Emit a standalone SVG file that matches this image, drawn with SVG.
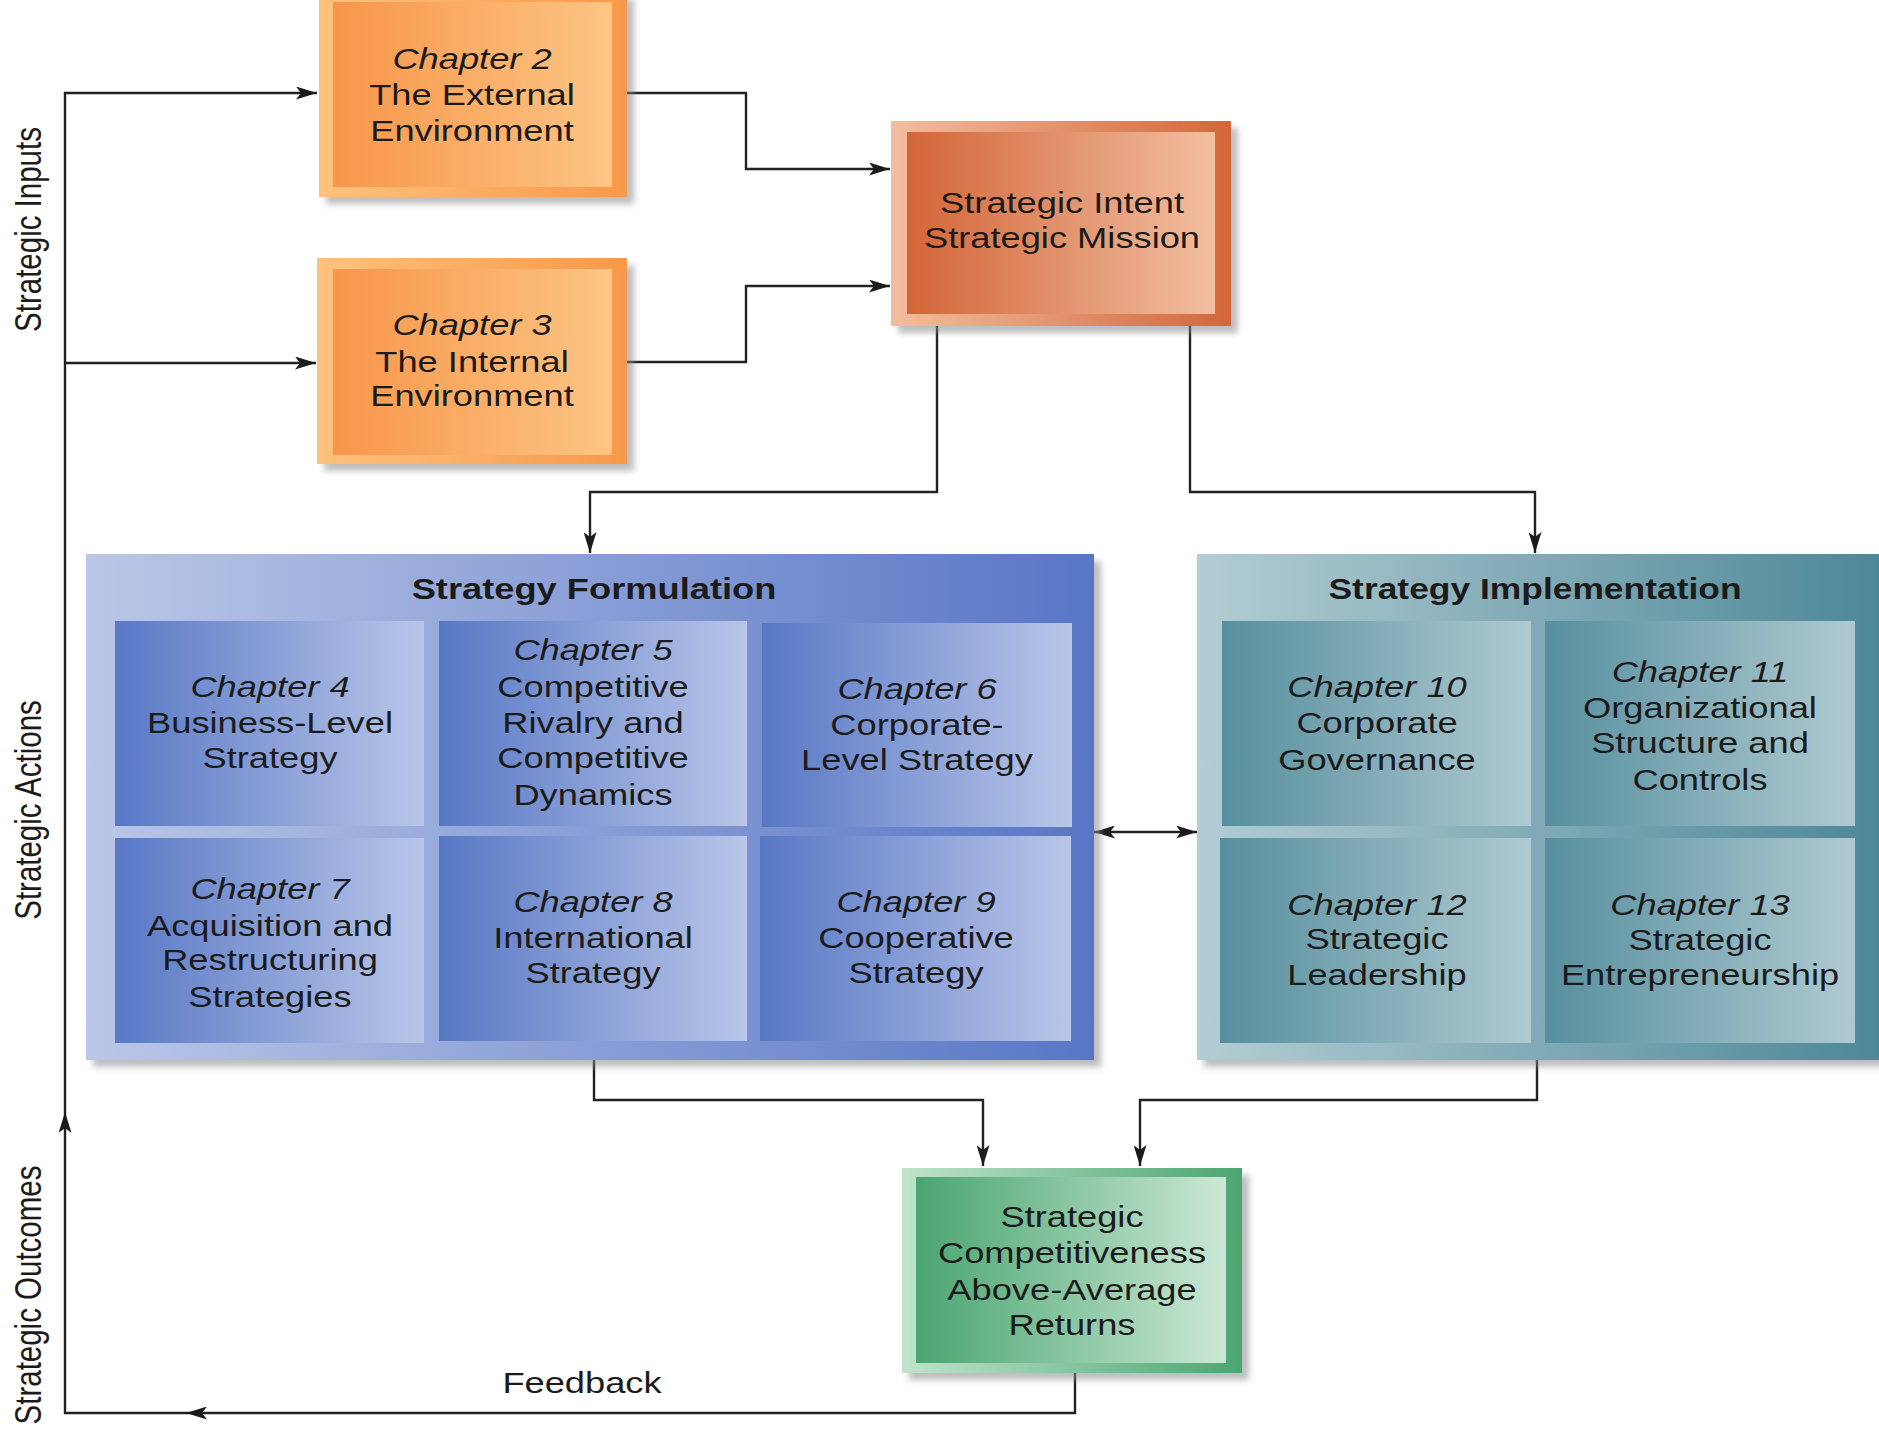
<svg xmlns="http://www.w3.org/2000/svg" width="1879" height="1432" viewBox="0 0 1879 1432">
<defs>
<style>
.t{font-family:"Liberation Sans",Arial,Helvetica,sans-serif;font-size:29.5px;fill:#1b1b1b;text-anchor:middle}
.i{font-style:italic}
.b{font-weight:bold}
.ln{fill:none;stroke:#222;stroke-width:2.4}
</style>
<linearGradient id="oO" x1="0" y1="0" x2="1" y2="0"><stop offset="0" stop-color="#FDC27D"/><stop offset="1" stop-color="#F7994A"/></linearGradient>
<linearGradient id="oI" x1="0" y1="0" x2="1" y2="0"><stop offset="0" stop-color="#F7964A"/><stop offset="1" stop-color="#FDC584"/></linearGradient>
<linearGradient id="rO" x1="0" y1="0" x2="1" y2="0"><stop offset="0" stop-color="#F2BE9F"/><stop offset="1" stop-color="#D3663A"/></linearGradient>
<linearGradient id="rI" x1="0" y1="0" x2="1" y2="0"><stop offset="0" stop-color="#D36538"/><stop offset="1" stop-color="#F2BFA1"/></linearGradient>
<linearGradient id="bO" x1="0" y1="0" x2="1" y2="0"><stop offset="0" stop-color="#BBC7E7"/><stop offset="1" stop-color="#5876C6"/></linearGradient>
<linearGradient id="bI" x1="0" y1="0" x2="1" y2="0"><stop offset="0" stop-color="#5878C5"/><stop offset="1" stop-color="#B9C6E8"/></linearGradient>
<linearGradient id="tO" x1="0" y1="0" x2="1" y2="0"><stop offset="0" stop-color="#B3CDD4"/><stop offset="1" stop-color="#4D8797"/></linearGradient>
<linearGradient id="tI" x1="0" y1="0" x2="1" y2="0"><stop offset="0" stop-color="#578F9E"/><stop offset="1" stop-color="#AFCAD1"/></linearGradient>
<linearGradient id="gO" x1="0" y1="0" x2="1" y2="0"><stop offset="0" stop-color="#C0E3CC"/><stop offset="1" stop-color="#4CA671"/></linearGradient>
<linearGradient id="gI" x1="0" y1="0" x2="1" y2="0"><stop offset="0" stop-color="#4AA571"/><stop offset="1" stop-color="#CBE8D5"/></linearGradient>
<filter id="sh" x="-5%" y="-5%" width="115%" height="115%"><feDropShadow dx="7" dy="7" stdDeviation="3" flood-color="#888" flood-opacity="0.55"/></filter>
<marker id="ar" viewBox="0 0 21 13" refX="21" refY="6.5" markerWidth="21" markerHeight="13" markerUnits="userSpaceOnUse" orient="auto-start-reverse"><path d="M0,0 L21,6.5 L0,13 L5,6.5 Z" fill="#1b1b1b"/></marker>
</defs>
<rect width="1879" height="1432" fill="#fff"/>

<g id="labels">
<text class="t" transform="translate(41 229.5) scale(1.23 1) rotate(-90)">Strategic Inputs</text>
<text class="t" transform="translate(41 810) scale(1.23 1) rotate(-90)">Strategic Actions</text>
<text class="t" transform="translate(41 1295) scale(1.23 1) rotate(-90)">Strategic Outcomes</text>
<text class="t" transform="translate(582 0) scale(1.23 1)" y="1393">Feedback</text>
</g>

<g id="connectors">
<path class="ln" d="M1075,1373 V1413 H186" marker-end="url(#ar)"/>
<path class="ln" d="M186,1413 H65 V1112" marker-end="url(#ar)"/>
<path class="ln" d="M65,1112 V93 H317" marker-end="url(#ar)"/>
<path class="ln" d="M65,363 H316" marker-end="url(#ar)"/>
<path class="ln" d="M627,93 H746 V169 H890" marker-end="url(#ar)"/>
<path class="ln" d="M627,362 H746 V286 H890" marker-end="url(#ar)"/>
<path class="ln" d="M937,326 V492 H590 V553" marker-end="url(#ar)"/>
<path class="ln" d="M1190,326 V492 H1535 V553" marker-end="url(#ar)"/>
<path class="ln" d="M1094,832 H1197" marker-start="url(#ar)" marker-end="url(#ar)"/>
<path class="ln" d="M594,1060 V1100 H983 V1166" marker-end="url(#ar)"/>
<path class="ln" d="M1537,1060 V1100 H1140 V1166" marker-end="url(#ar)"/>
</g>

<g id="ch2">
<rect x="319" y="-8" width="308" height="205" fill="url(#oO)" filter="url(#sh)"/>
<rect x="333" y="2" width="279" height="185" fill="url(#oI)"/>
<text class="t" transform="translate(472 0) scale(1.23 1)"><tspan class="i" x="0" y="69">Chapter 2</tspan><tspan x="0" y="105">The External</tspan><tspan x="0" y="141">Environment</tspan></text>
</g>

<g id="ch3">
<rect x="317" y="258" width="310" height="206" fill="url(#oO)" filter="url(#sh)"/>
<rect x="333" y="269" width="279" height="186" fill="url(#oI)"/>
<text class="t" transform="translate(472 0) scale(1.23 1)"><tspan class="i" x="0" y="335">Chapter 3</tspan><tspan x="0" y="372">The Internal</tspan><tspan x="0" y="406">Environment</tspan></text>
</g>

<g id="intent">
<rect x="891" y="121" width="340" height="205" fill="url(#rO)" filter="url(#sh)"/>
<rect x="907" y="132" width="308" height="182" fill="url(#rI)"/>
<text class="t" transform="translate(1062 0) scale(1.23 1)"><tspan x="0" y="213">Strategic Intent</tspan><tspan x="0" y="248">Strategic Mission</tspan></text>
</g>

<g id="formulation">
<rect x="86" y="554" width="1008" height="506" fill="url(#bO)" filter="url(#sh)"/>
<text class="t b" transform="translate(594 0) scale(1.23 1)" y="599">Strategy Formulation</text>
<g id="ch4">
<rect x="115" y="621" width="309" height="205" fill="url(#bI)"/>
<text class="t" transform="translate(270 0) scale(1.23 1)"><tspan class="i" x="0" y="697">Chapter 4</tspan><tspan x="0" y="733">Business-Level</tspan><tspan x="0" y="768">Strategy</tspan></text>
</g>
<g id="ch5">
<rect x="439" y="621" width="308" height="205" fill="url(#bI)"/>
<text class="t" transform="translate(593 0) scale(1.23 1)"><tspan class="i" x="0" y="660">Chapter 5</tspan><tspan x="0" y="697">Competitive</tspan><tspan x="0" y="733">Rivalry and</tspan><tspan x="0" y="768">Competitive</tspan><tspan x="0" y="805">Dynamics</tspan></text>
</g>
<g id="ch6">
<rect x="762" y="623" width="310" height="204" fill="url(#bI)"/>
<text class="t" transform="translate(917 0) scale(1.23 1)"><tspan class="i" x="0" y="699">Chapter 6</tspan><tspan x="0" y="735">Corporate-</tspan><tspan x="0" y="770">Level Strategy</tspan></text>
</g>
<g id="ch7">
<rect x="115" y="838" width="309" height="205" fill="url(#bI)"/>
<text class="t" transform="translate(270 0) scale(1.23 1)"><tspan class="i" x="0" y="899">Chapter 7</tspan><tspan x="0" y="936">Acquisition and</tspan><tspan x="0" y="970">Restructuring</tspan><tspan x="0" y="1007">Strategies</tspan></text>
</g>
<g id="ch8">
<rect x="439" y="836" width="308" height="205" fill="url(#bI)"/>
<text class="t" transform="translate(593 0) scale(1.23 1)"><tspan class="i" x="0" y="912">Chapter 8</tspan><tspan x="0" y="948">International</tspan><tspan x="0" y="983">Strategy</tspan></text>
</g>
<g id="ch9">
<rect x="760" y="836" width="311" height="205" fill="url(#bI)"/>
<text class="t" transform="translate(916 0) scale(1.23 1)"><tspan class="i" x="0" y="912">Chapter 9</tspan><tspan x="0" y="948">Cooperative</tspan><tspan x="0" y="983">Strategy</tspan></text>
</g>
</g>

<g id="implementation">
<rect x="1197" y="554" width="690" height="506" fill="url(#tO)" filter="url(#sh)"/>
<text class="t b" transform="translate(1535 0) scale(1.2 1)" y="599">Strategy Implementation</text>
<g id="ch10">
<rect x="1222" y="621" width="309" height="205" fill="url(#tI)"/>
<text class="t" transform="translate(1377 0) scale(1.23 1)"><tspan class="i" x="0" y="697">Chapter 10</tspan><tspan x="0" y="733">Corporate</tspan><tspan x="0" y="770">Governance</tspan></text>
</g>
<g id="ch11">
<rect x="1545" y="621" width="310" height="205" fill="url(#tI)"/>
<text class="t" transform="translate(1700 0) scale(1.23 1)"><tspan class="i" x="0" y="682">Chapter 11</tspan><tspan x="0" y="718">Organizational</tspan><tspan x="0" y="753">Structure and</tspan><tspan x="0" y="790">Controls</tspan></text>
</g>
<g id="ch12">
<rect x="1220" y="838" width="311" height="205" fill="url(#tI)"/>
<text class="t" transform="translate(1377 0) scale(1.23 1)"><tspan class="i" x="0" y="915">Chapter 12</tspan><tspan x="0" y="949">Strategic</tspan><tspan x="0" y="985">Leadership</tspan></text>
</g>
<g id="ch13">
<rect x="1545" y="838" width="310" height="205" fill="url(#tI)"/>
<text class="t" transform="translate(1700 0) scale(1.23 1)"><tspan class="i" x="0" y="915">Chapter 13</tspan><tspan x="0" y="950">Strategic</tspan><tspan x="0" y="985">Entrepreneurship</tspan></text>
</g>
</g>

<g id="outcomes">
<rect x="902" y="1168" width="340" height="205" fill="url(#gO)" filter="url(#sh)"/>
<rect x="916" y="1177" width="310" height="186" fill="url(#gI)"/>
<text class="t" transform="translate(1072 0) scale(1.23 1)"><tspan x="0" y="1227">Strategic</tspan><tspan x="0" y="1263">Competitiveness</tspan><tspan x="0" y="1300">Above-Average</tspan><tspan x="0" y="1335">Returns</tspan></text>
</g>
</svg>
